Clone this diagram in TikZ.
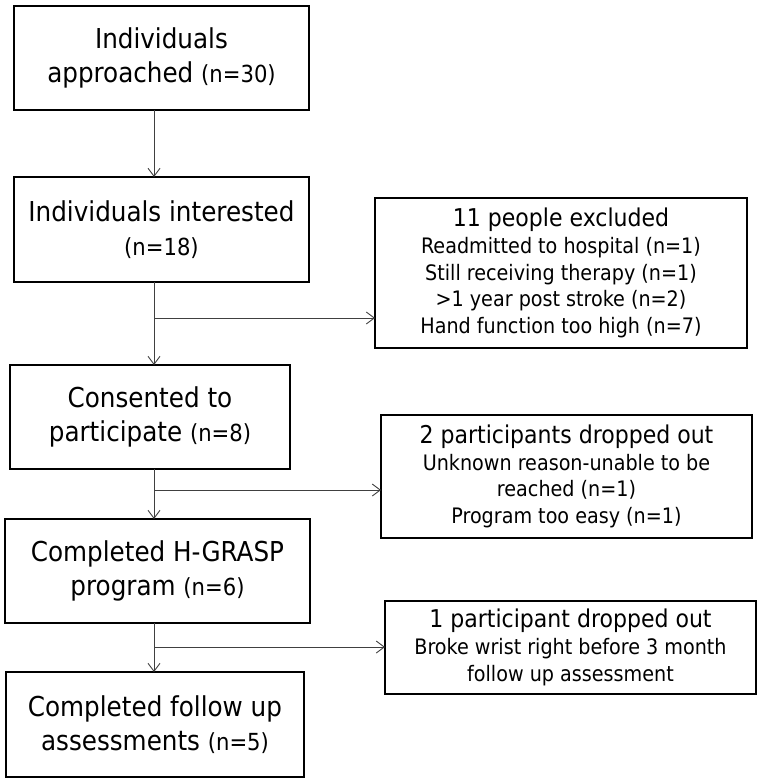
\documentclass[tikz,border=0pt]{standalone}
\usepackage{fontspec}
\setmainfont{DejaVu Sans Condensed}
\usepackage[dvipsnames,rgb]{xcolor}
\usetikzlibrary{positioning,shapes,arrows.meta}

\newcommand{\ncount}[1]{{\fontsize{23.5}{33}\selectfont #1}}
\newcommand{\outtitle}[1]{{\fontsize{24.5}{27}\selectfont #1}}

\begin{document}
\begin{tikzpicture}[
        stage/.style = {
            draw=black, line width=2.8pt, align=center, outer sep=0pt,
            font=\fontsize{27.4}{33.5}\selectfont, inner sep=2pt
        },
        outbox/.style = {
            draw=black, line width=2.6pt, align=center, outer sep=0pt,
            font=\fontsize{21.3}{26.8}\selectfont, inner sep=2pt
        },
        flow/.style = {
            draw=black!75, line width=0.9pt,
            -{Straight Barb[length=8pt,width=12pt]}
        }
    ]
        \fill[white] (0,0) rectangle (760pt,-781pt);
        \useasboundingbox (0,0) rectangle (760pt,-781pt);

        % main column
        \node[stage, minimum width=295pt, minimum height=104pt] (approached) at (161.5pt,-58pt)
            {Individuals\\approached \ncount{(n=30)}};
        \node[stage, minimum width=295pt, minimum height=105pt, below=67pt of approached] (interested)
            {Individuals interested\\\ncount{(n=18)}};
        \node[stage, minimum width=280pt, minimum height=104pt, below=83pt of interested, xshift=-11.5pt] (consented)
            {Consented to\\participate \ncount{(n=8)}};
        \node[stage, minimum width=305pt, minimum height=104pt, below=50pt of consented, xshift=7.5pt] (hgrasp)
            {Completed H-GRASP\\program \ncount{(n=6)}};
        \node[stage, minimum width=298pt, minimum height=105pt, below=49pt of hgrasp, xshift=-2.5pt] (followup)
            {Completed follow up\\assessments \ncount{(n=5)}};

        % exclusions
        \node[outbox, minimum width=372pt, minimum height=150pt, right=66pt of interested, yshift=-43.5pt] (excluded)
            {\outtitle{11 people excluded}\\Readmitted to hospital (n=1)\\Still receiving therapy (n=1)\\>1 year post stroke (n=2)\\Hand function too high (n=7)};
        \node[outbox, minimum width=371pt, minimum height=123pt, right=91pt of consented, yshift=-59.5pt] (droppedtwo)
            {\outtitle{2 participants dropped out}\\Unknown reason-unable to be\\reached (n=1)\\Program too easy (n=1)};
        \node[outbox, minimum width=371pt, minimum height=93pt, right=75pt of hgrasp, yshift=-76.5pt] (droppedone)
            {\outtitle{1 participant dropped out}\\Broke wrist right before 3 month\\follow up assessment};

        \coordinate (spine) at (154pt,0);
        \coordinate (split1) at (154pt,-318pt);
        \coordinate (split2) at (154pt,-490pt);
        \coordinate (split3) at (154pt,-647pt);

        \draw[flow] (approached.south -| spine) -- (interested.north -| spine);
        \draw[flow] (interested.south -| spine) -- (consented.north -| spine);
        \draw[flow] (consented.south -| spine) -- (hgrasp.north -| spine);
        \draw[flow] (hgrasp.south -| spine) -- (followup.north -| spine);

        \draw[flow] (split1) -- (split1 -| excluded.west);
        \draw[flow] (split2) -- (split2 -| droppedtwo.west);
        \draw[flow] (split3) -- (split3 -| droppedone.west);
    \end{tikzpicture}
\end{document}
